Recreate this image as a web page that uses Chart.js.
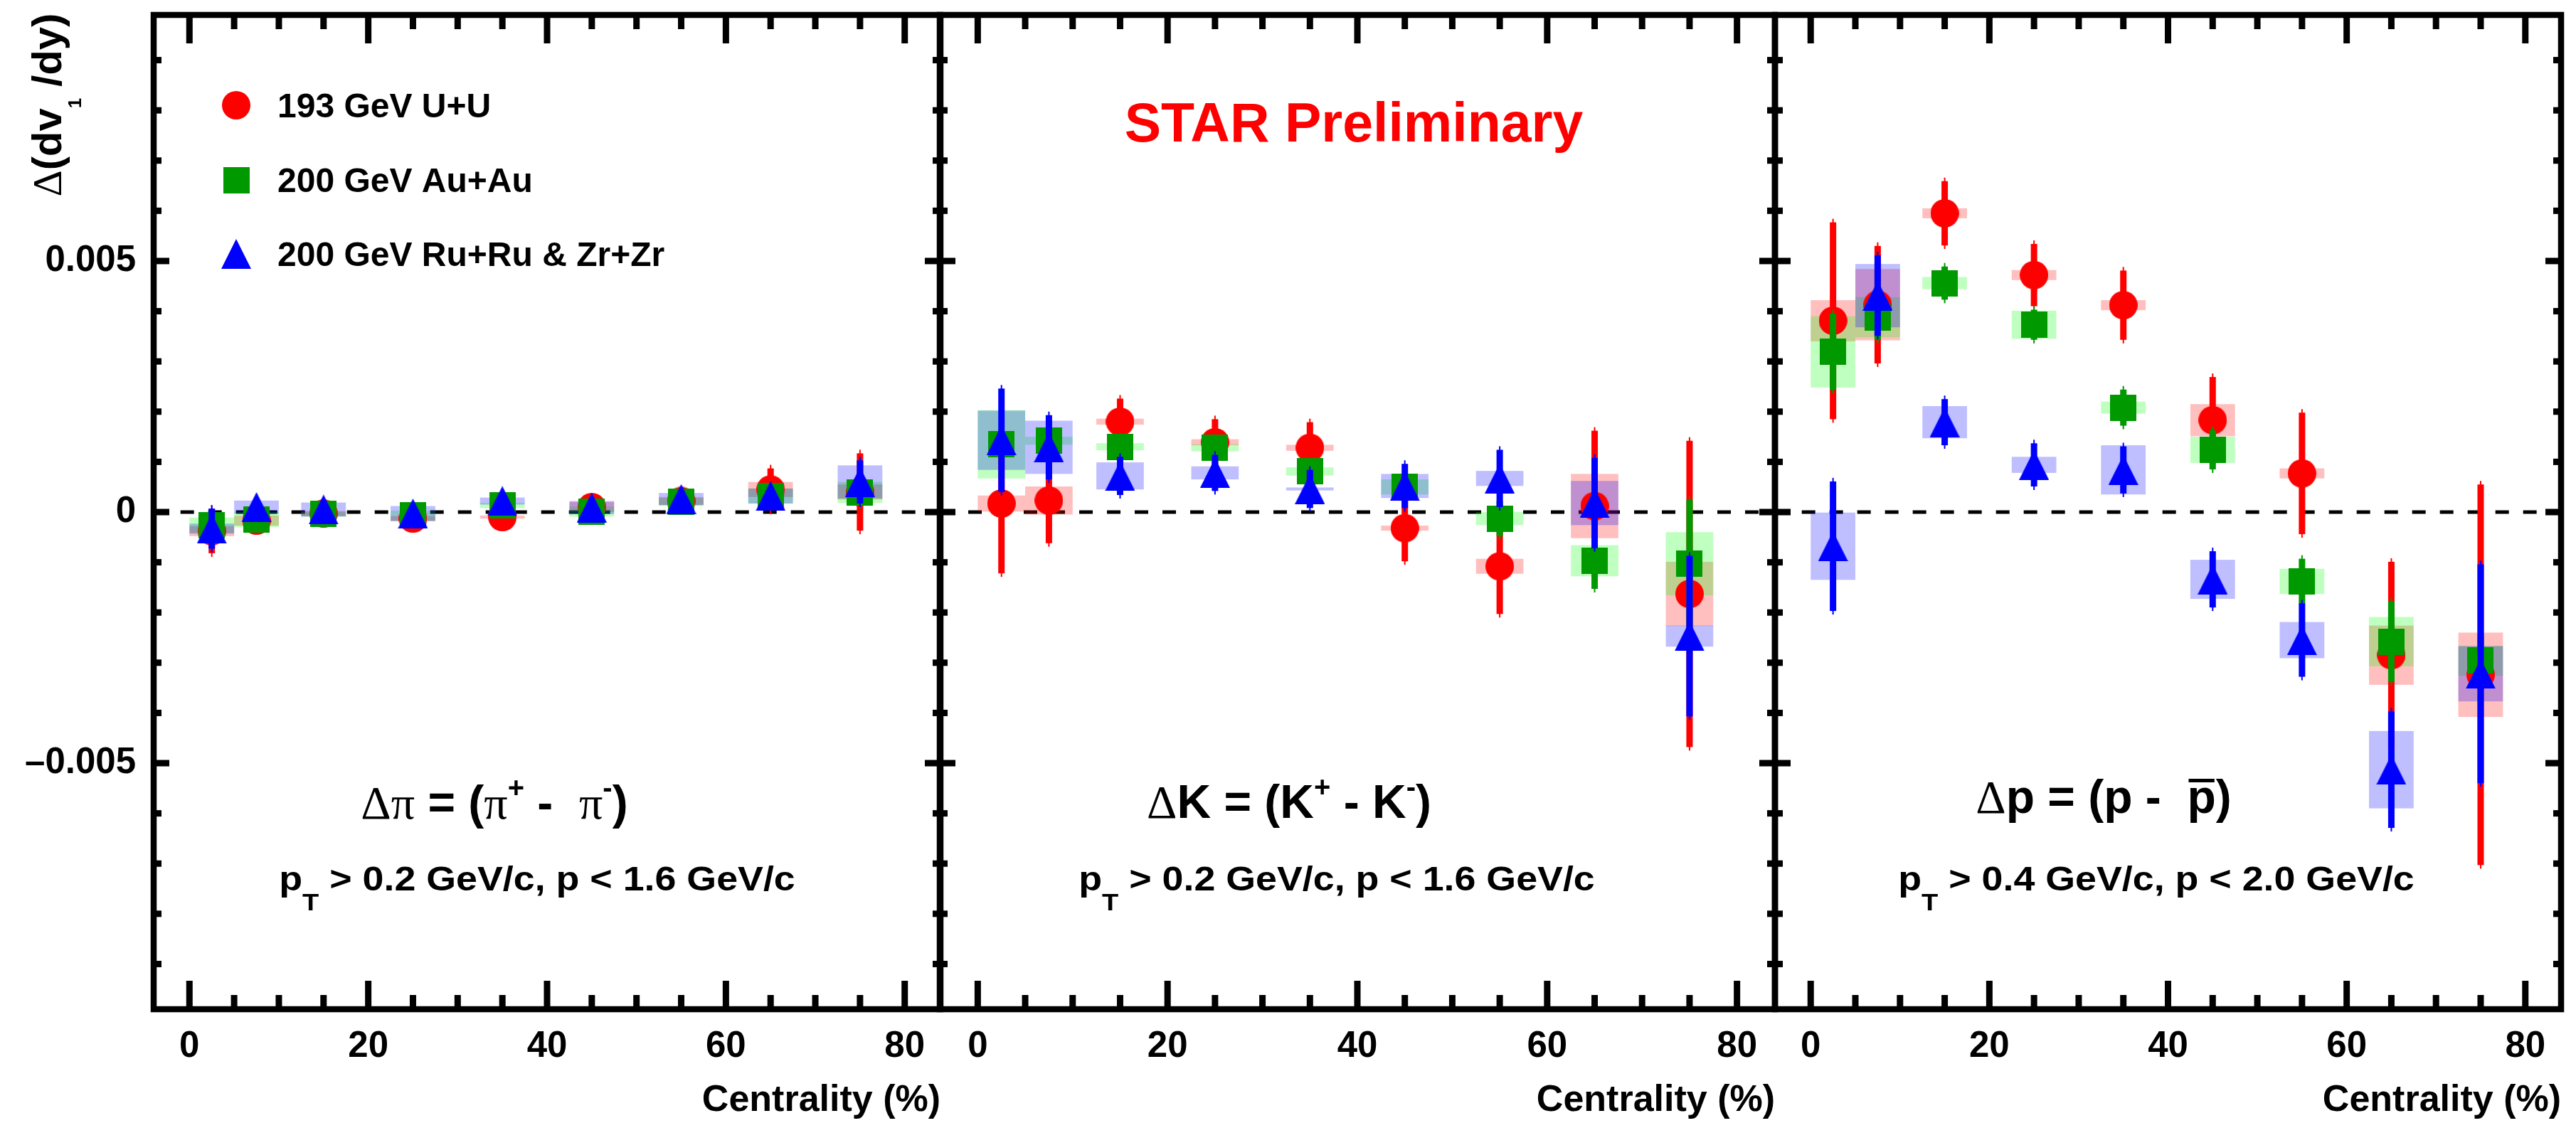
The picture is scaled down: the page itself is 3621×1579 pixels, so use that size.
<!DOCTYPE html>
<html>
<head>
<meta charset="utf-8">
<script src="https://cdn.jsdelivr.net/npm/chart.js@4.4.1/dist/chart.umd.min.js"></script>
<style>
  html, body { margin: 0; padding: 0; background: #fff; }
  #wrap { position: relative; width: 3621px; height: 1579px; }
  #wrap canvas { position: absolute; left: 0; top: 0; }
</style>
</head>
<body>
<div id="wrap">
  <canvas id="cPi" width="3621" height="1579"></canvas>
  <canvas id="cK" width="3621" height="1579"></canvas>
  <canvas id="cP" width="3621" height="1579"></canvas>
</div>
<script>
// centrality bins (bin centres, %)
const centrality = [2.5, 7.5, 15, 25, 35, 45, 55, 65, 75];
const seriesLabels = ["193 GeV U+U", "200 GeV Au+Au", "200 GeV Ru+Ru & Zr+Zr"];
const xTickValues = [0, 20, 40, 60, 80];
const yTickValues = [-0.005, 0, 0.005];

// Δπ = (π+ - π-)
const piUU      = [-0.00038, -0.00017, -0.00003, -0.00013, -0.00010, 0.00010, 0.00022, 0.00045, 0.00040];
const piUUStat  = [0.00044, 0.00012, 0.00010, 0.00010, 0.00010, 0.00010, 0.00010, 0.00042, 0.00077];
const piUUSys   = [0.00010, 0.00010, 0.00005, 0.00005, 0.00003, 0.00010, 0.00008, 0.00015, 0.00015];
const piAuAu     = [-0.00026, -0.00015, -0.00004, -0.00007, 0.00013, 0.00001, 0.00020, 0.00032, 0.00039];
const piAuAuStat = [0.00020, 0.00010, 0.00008, 0.00008, 0.00008, 0.00008, 0.00008, 0.00012, 0.00025];
const piAuAuSys  = [0.00015, 0.00015, 0.00005, 0.00010, 0.00005, 0.00010, 0.00008, 0.00015, 0.00021];
const piIso     = [-0.00033, 0.00010, 0.00005, -0.00003, 0.00022, 0.00009, 0.00026, 0.00032, 0.00060];
const piIsoStat = [0.00040, 0.00008, 0.00008, 0.00008, 0.00008, 0.00008, 0.00008, 0.00010, 0.00043];
const piIsoSys  = [0.00010, 0.00013, 0.00014, 0.00015, 0.00007, 0.00013, 0.00012, 0.00015, 0.00033];

// ΔK = (K+ - K-)
const kUU      = [0.00017, 0.00023, 0.00180, 0.00139, 0.00128, -0.00032, -0.00108, 0.00012, -0.00163];
const kUUStat  = [0.00139, 0.00085, 0.00046, 0.00046, 0.00051, 0.00066, 0.00095, 0.00150, 0.00305];
const kUUSys   = [0.00016, 0.00028, 0.00006, 0.00006, 0.00006, 0.00005, 0.00015, 0.00064, 0.00064];
const kAuAu     = [0.00135, 0.00142, 0.00130, 0.00128, 0.00081, 0.00050, -0.00013, -0.00097, -0.00103];
const kAuAuStat = [0.00025, 0.00025, 0.00020, 0.00020, 0.00020, 0.00025, 0.00035, 0.00056, 0.00127];
const kAuAuSys  = [0.00068, 0.00008, 0.00007, 0.00007, 0.00008, 0.00015, 0.00013, 0.00031, 0.00063];
const kIso     = [0.00143, 0.00129, 0.00072, 0.00078, 0.00046, 0.00052, 0.00067, 0.00018, -0.00247];
const kIsoStat = [0.00103, 0.00064, 0.00038, 0.00036, 0.00038, 0.00044, 0.00057, 0.00090, 0.00160];
const kIsoSys  = [0.00059, 0.00053, 0.00027, 0.00013, 0.00003, 0.00024, 0.00015, 0.00044, 0.00021];

// Δp = (p - pbar)
const pUU      = [0.00381, 0.00413, 0.00595, 0.00472, 0.00412, 0.00183, 0.00077, -0.00285, -0.00324];
const pUUStat  = [0.00196, 0.00117, 0.00064, 0.00062, 0.00069, 0.00086, 0.00121, 0.00186, 0.00379];
const pUUSys   = [0.00041, 0.00071, 0.00010, 0.00010, 0.00010, 0.00032, 0.00010, 0.00059, 0.00084];
const pAuAu     = [0.00319, 0.00388, 0.00456, 0.00373, 0.00208, 0.00124, -0.00138, -0.00258, -0.00296];
const pAuAuStat = [0.00076, 0.00045, 0.00033, 0.00030, 0.00036, 0.00039, 0.00045, 0.00080, 0.00050];
const pAuAuSys  = [0.00071, 0.00040, 0.00012, 0.00028, 0.00012, 0.00026, 0.00025, 0.00049, 0.00030];
const pIso     = [-0.00068, 0.00431, 0.00179, 0.00094, 0.00084, -0.00134, -0.00255, -0.00513, -0.00322];
const pIsoStat = [0.00129, 0.00080, 0.00046, 0.00043, 0.00047, 0.00056, 0.00073, 0.00116, 0.00218];
const pIsoSys  = [0.00067, 0.00063, 0.00032, 0.00016, 0.00049, 0.00039, 0.00036, 0.00077, 0.00055];

const seriesColors = ["#ff0000", "#009900", "#0000ff"];
const boxColors = ["rgba(255,0,0,0.25)", "rgba(0,255,0,0.25)", "rgba(0,0,255,0.25)"];
const sysHalfWidth = 2.5;

Chart.defaults.font.family = '"Liberation Sans", Arial, Helvetica, sans-serif';
Chart.defaults.font.weight = "bold";
Chart.defaults.color = "#000";

const CW = 3621, CH = 1579;
const frameTop = 18.6, xAxisHeight = 160;

const F = {
  sym: '66px "Liberation Serif"',
  big: 'bold 66px "Liberation Sans"',
  sup: 'bold 40px "Liberation Sans"',
  cut: 'bold 48px "Liberation Sans"',
  sub: 'bold 34px "Liberation Sans"',
  leg: 'bold 48px "Liberation Sans"',
  star: 'bold 77px "Liberation Sans"',
  ytitle: 'bold 58px "Liberation Sans"',
  ysym: '58px "Liberation Serif"',
  ysub: 'bold 26px "Liberation Sans"',
};

// marker images (ROOT style 20, 21, 22)
function markerCanvas(shape, color) {
  const s = shape === "circle" ? 40 : shape === "square" ? 37 : 42;
  const c = document.createElement("canvas");
  c.width = s; c.height = s;
  const g = c.getContext("2d");
  g.fillStyle = color;
  g.beginPath();
  if (shape === "circle") g.arc(s / 2, s / 2, s / 2, 0, Math.PI * 2);
  else if (shape === "square") g.rect(0, 0, s, s);
  else { g.moveTo(s / 2, 0); g.lineTo(s, s); g.lineTo(0, s); g.closePath(); }
  g.fill();
  return c;
}
const markers = [
  markerCanvas("circle", seriesColors[0]),
  markerCanvas("square", seriesColors[1]),
  markerCanvas("triangle", seriesColors[2]),
];

// draws a run of text pieces (for super/subscripts), optional horizontal stretch
function drawRich(ctx, segs, x, y, align, stretch) {
  const k = stretch || 1;
  let w = 0;
  segs.forEach(s => { ctx.font = s.f; s.w = ctx.measureText(s.t).width; w += s.w; });
  ctx.save();
  ctx.translate(x, y);
  ctx.scale(k, 1);
  let cx = align === "center" ? -w / 2 : align === "right" ? -w : 0;
  segs.forEach(s => {
    ctx.font = s.f;
    ctx.fillText(s.t, cx, s.dy || 0);
    if (s.bar) ctx.fillRect(cx + 2, -48, s.w - 4, 5);
    cx += s.w;
  });
  ctx.restore();
}

const cut1 = [{ t: "p", f: F.cut }, { t: "T", f: F.sub, dy: 28 }, { t: " > 0.2 GeV/c, p < 1.6 GeV/c", f: F.cut }];
const cut2 = [{ t: "p", f: F.cut }, { t: "T", f: F.sub, dy: 28 }, { t: " > 0.4 GeV/c, p < 2.0 GeV/c", f: F.cut }];

const panels = [
  {
    id: "cPi", left: 216, right: 1322, yLabels: true,
    values: [piUU, piAuAu, piIso], stat: [piUUStat, piAuAuStat, piIsoStat], sys: [piUUSys, piAuAuSys, piIsoSys],
    title: [{ t: "Δπ", f: F.sym }, { t: " = (", f: F.big }, { t: "π", f: F.sym }, { t: "+", f: F.sup, dy: -30 },
            { t: " -  ", f: F.big }, { t: "π", f: F.sym }, { t: "-", f: F.sup, dy: -30 }, { t: ")", f: F.big }],
    titleX: 695, titleY: 1151, cut: cut1, cutX: 755,
  },
  {
    id: "cK", left: 1321, right: 2495, yLabels: false,
    values: [kUU, kAuAu, kIso], stat: [kUUStat, kAuAuStat, kIsoStat], sys: [kUUSys, kAuAuSys, kIsoSys],
    title: [{ t: "Δ", f: F.sym }, { t: "K = (K", f: F.big }, { t: "+", f: F.sup, dy: -30 },
            { t: " - K", f: F.big }, { t: "-", f: F.sup, dy: -30 }, { t: ")", f: F.big }],
    titleX: 1812, titleY: 1150, cut: cut1, cutX: 1879, star: true,
  },
  {
    id: "cP", left: 2495, right: 3608, yLabels: false,
    values: [pUU, pAuAu, pIso], stat: [pUUStat, pAuAuStat, pIsoStat], sys: [pUUSys, pAuAuSys, pIsoSys],
    title: [{ t: "Δ", f: F.sym }, { t: "p = (p -  ", f: F.big }, { t: "p", f: F.big, bar: true }, { t: ")", f: F.big }],
    titleX: 2957, titleY: 1143, cut: cut2, cutX: 3031,
  },
];

function rootStyle(panel) {
  return {
    id: "rootStyle",
    beforeDatasetsDraw(chart) {
      const { ctx, chartArea: a, scales: { x, y } } = chart;
      const y0 = y.getPixelForValue(0);
      ctx.save();
      // dashed zero line
      ctx.strokeStyle = "#000";
      ctx.lineWidth = 5;
      ctx.setLineDash([19, 20]);
      ctx.beginPath();
      ctx.moveTo(x.getPixelForValue(-1), y0);
      ctx.lineTo(a.right, y0);
      ctx.stroke();
      ctx.setLineDash([]);
      // systematic boxes
      chart.data.datasets.forEach(ds => {
        ctx.fillStyle = ds.boxColor;
        ds.data.forEach((pt, j) => {
          const x1 = x.getPixelForValue(pt.x - sysHalfWidth);
          const x2 = x.getPixelForValue(pt.x + sysHalfWidth);
          const y1 = y.getPixelForValue(pt.y + ds.sys[j]);
          const y2 = y.getPixelForValue(pt.y - ds.sys[j]);
          ctx.fillRect(x1, y1, x2 - x1, y2 - y1);
        });
      });
      ctx.restore();
    },
    beforeDatasetDraw(chart, args) {
      // statistical error bars, drawn just under each series' markers
      const { ctx, scales: { x, y } } = chart;
      const ds = chart.data.datasets[args.index];
      ctx.save();
      ctx.fillStyle = ds.lineColor;
      ds.data.forEach((pt, j) => {
        const px = x.getPixelForValue(pt.x);
        const yt = y.getPixelForValue(pt.y + ds.stat[j]);
        const yb = y.getPixelForValue(pt.y - ds.stat[j]);
        ctx.fillRect(px - 4.5, yt, 9, yb - yt);
        ctx.fillRect(px - 1, yt - 5, 2, yb - yt + 10);
      });
      ctx.restore();
    },
    afterDraw(chart) {
      const { ctx, chartArea: a, scales: { x, y } } = chart;
      ctx.save();
      ctx.fillStyle = "#000";
      ctx.strokeStyle = "#000";
      ctx.lineWidth = 8.5;
      ctx.strokeRect(a.left, a.top, a.right - a.left, a.bottom - a.top);
      // x ticks (bottom and top, inward)
      for (let v = 0; v <= 80; v += 5) {
        const px = x.getPixelForValue(v);
        const len = v % 20 === 0 ? 40 : 20;
        ctx.fillRect(px - 4.5, a.bottom - len, 9, len);
        ctx.fillRect(px - 4.5, a.top, 9, len);
      }
      // y ticks (left and right, inward)
      for (let k = -9; k <= 9; k++) {
        const py = y.getPixelForValue(k * 0.001);
        const len = k % 5 === 0 ? 22 : 11;
        ctx.fillRect(a.left, py - 4.5, len, 9);
        ctx.fillRect(a.right - len, py - 4.5, len, 9);
      }
      // panel labels
      ctx.textBaseline = "alphabetic";
      drawRich(ctx, panel.title, panel.titleX, panel.titleY, "center");
      drawRich(ctx, panel.cut, panel.cutX, 1252, "center", 1.12);

      if (panel.star) {
        ctx.fillStyle = "#ff0000";
        ctx.font = F.star;
        ctx.textAlign = "center";
        ctx.fillText("STAR Preliminary", 1903, 199);
        ctx.textAlign = "left";
        ctx.fillStyle = "#000";
      }

      if (panel.yLabels) {
        // legend
        const ly = [148, 253, 357];
        chart.data.datasets.forEach((ds, s) => {
          const m = markers[s];
          ctx.drawImage(m, 332 - m.width / 2, ly[s] - m.height / 2);
          ctx.font = F.leg;
          ctx.fillStyle = "#000";
          ctx.fillText(ds.label, 390, ly[s] + 17);
        });
        // y axis title, rotated
        ctx.translate(86, frameTop);
        ctx.rotate(-Math.PI / 2);
        drawRich(ctx, [{ t: "Δ", f: F.ysym }, { t: "(dv", f: F.ytitle }, { t: "1", f: F.ysub, dy: 28 },
                       { t: " /dy)", f: F.ytitle }], 0, 0, "right");
      }
      ctx.restore();
    },
  };
}

function makePanel(p) {
  return new Chart(document.getElementById(p.id), {
    type: "scatter",
    data: {
      datasets: seriesLabels.map((label, s) => ({
        label: label,
        data: centrality.map((c, i) => ({ x: c, y: p.values[s][i] })),
        stat: p.stat[s],
        sys: p.sys[s],
        lineColor: seriesColors[s],
        boxColor: boxColors[s],
        pointStyle: markers[s],
        pointRadius: 20,
        order: 3 - s,
      })),
    },
    options: {
      responsive: false,
      animation: false,
      events: [],
      layout: {
        padding: { left: 0, right: CW - p.right, top: frameTop, bottom: 0 },
      },
      scales: {
        x: {
          type: "linear",
          min: -4,
          max: 84,
          grid: { display: false, drawTicks: false },
          border: { display: false },
          afterBuildTicks: axis => { axis.ticks = xTickValues.map(v => ({ value: v })); },
          afterFit: axis => {
            axis.height = xAxisHeight;
            axis.paddingLeft = 0;
            axis.paddingRight = 0;
          },
          ticks: { padding: 22, font: { size: 51, weight: "bold" }, maxRotation: 0, callback: v => String(v) },
          title: {
            display: true, text: "Centrality (%)", align: "end",
            font: { size: 52, weight: "bold" }, padding: { top: 0, bottom: 0 },
          },
        },
        y: {
          type: "linear",
          min: -0.0099,
          max: 0.0099,
          grid: { display: false, drawTicks: false },
          border: { display: false },
          afterBuildTicks: axis => { axis.ticks = yTickValues.map(v => ({ value: v })); },
          afterFit: axis => {
            axis.width = p.left;
            axis.paddingTop = 0;
            axis.paddingBottom = 0;
          },
          ticks: {
            display: p.yLabels,
            padding: 25,
            font: { size: 51, weight: "bold" },
            callback: v => (v === 0 ? "0" : (v < 0 ? "\u2013" : "") + Math.abs(v).toFixed(3)),
          },
        },
      },
      plugins: { legend: { display: false }, tooltip: { enabled: false } },
    },
    plugins: [rootStyle(p)],
  });
}

panels.forEach(makePanel);
</script>
</body>
</html>
